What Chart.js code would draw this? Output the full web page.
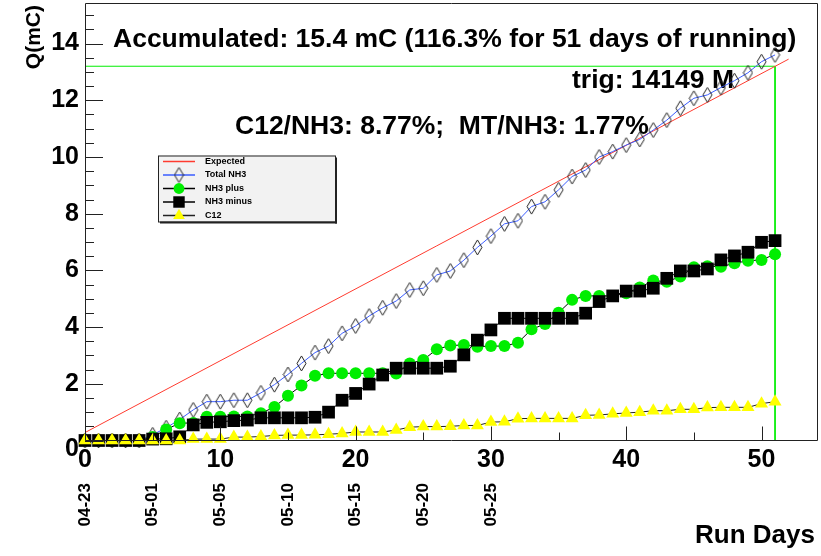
<!DOCTYPE html>
<html>
<head>
<meta charset="utf-8">
<script src="https://cdn.jsdelivr.net/npm/chart.js@4.4.1/dist/chart.umd.min.js"></script>
<style>
body { margin: 0; background: #fff; }
#wrap { width: 821px; height: 556px; }
</style>
</head>
<body>
<div id="wrap"><canvas id="myChart" width="821" height="556"></canvas></div>
<script>
// run day index for each measured point
const runDays = Array.from({length: 52}, (_, i) => i)

const totalNH3 = [0, 0, 0, 0, 0, 0.2, 0.45, 0.74, 1.08, 1.37,
  1.37, 1.42, 1.42, 1.68, 1.97, 2.33, 2.72, 3.1, 3.33, 3.78,
  4.04, 4.39, 4.68, 4.92, 5.31, 5.37, 5.84, 5.98, 6.36, 6.81,
  7.21, 7.64, 7.75, 8.25, 8.42, 8.84, 9.31, 9.54, 10.0, 10.19,
  10.42, 10.62, 10.95, 11.3, 11.72, 12.07, 12.19, 12.45, 12.69, 12.97,
  13.36, 13.6]
const nh3Plus = [0, 0, 0, 0, 0, 0.12, 0.39, 0.61, 0.62, 0.84,
  0.84, 0.85, 0.85, 0.96, 1.18, 1.58, 1.94, 2.28, 2.37, 2.37,
  2.37, 2.37, 2.37, 2.36, 2.72, 2.84, 3.22, 3.35, 3.37, 3.31,
  3.33, 3.33, 3.45, 3.92, 4.11, 4.51, 4.96, 5.1, 5.1, 5.1,
  5.19, 5.4, 5.64, 5.6, 5.78, 6.11, 6.15, 6.13, 6.25, 6.34,
  6.37, 6.57]
const nh3Minus = [0, 0, 0, 0, 0, 0.05, 0.06, 0.13, 0.55, 0.64,
  0.66, 0.7, 0.72, 0.8, 0.8, 0.8, 0.8, 0.82, 1.0, 1.42,
  1.66, 1.99, 2.31, 2.55, 2.55, 2.55, 2.55, 2.62, 3.02, 3.54,
  3.9, 4.31, 4.31, 4.31, 4.31, 4.31, 4.31, 4.49, 4.9, 5.1,
  5.27, 5.27, 5.37, 5.72, 5.98, 5.98, 6.05, 6.37, 6.51, 6.64,
  6.99, 7.05]
const c12 = [0, 0, 0, 0, 0, 0, 0, 0, 0.05, 0.05,
  0.05, 0.12, 0.12, 0.14, 0.18, 0.19, 0.19, 0.2, 0.22, 0.25,
  0.3, 0.3, 0.3, 0.37, 0.47, 0.49, 0.49, 0.5, 0.53, 0.53,
  0.65, 0.66, 0.77, 0.78, 0.78, 0.78, 0.78, 0.89, 0.9, 0.94,
  0.97, 1.0, 1.05, 1.05, 1.1, 1.1, 1.16, 1.17, 1.17, 1.17,
  1.3, 1.37]

const expectedDays = [0, 52]
const expectedQ = [0.28, 13.45]
const markDays = [0, 51, 51]
const markQ = [13.2, 13.2, 0]

const yTicks = [0, 2, 4, 6, 8, 10, 12, 14]
const xTicks = [0, 10, 20, 30, 40, 50]
const dateDays = [0, 5, 10, 15, 20, 25, 30]
const dateLabels = ['04-23', '05-01', '05-05', '05-10', '05-15', '05-20', '05-25']

const titleLines = [
  'Accumulated: 15.4 mC (116.3% for 51 days of running)',
  'trig: 14149 M',
  'C12/NH3: 8.77%;  MT/NH3: 1.77%'
]

const FONT = '"Liberation Sans", Arial, sans-serif'
const pts = (xs, ys) => xs.map((x, i) => ({x: x, y: ys[i]}))

// open diamond marker like ROOT's
const diamond = document.createElement('canvas')
diamond.width = 11
diamond.height = 17
const dc = diamond.getContext('2d')
dc.strokeStyle = '#222'
dc.lineWidth = 1
dc.beginPath()
dc.moveTo(5.5, 1)
dc.lineTo(10, 8.5)
dc.lineTo(5.5, 16)
dc.lineTo(1, 8.5)
dc.closePath()
dc.stroke()

const rootDecor = {
  id: 'rootDecor',
  beforeDatasetsDraw(chart) {
    const ctx = chart.ctx
    ctx.save()
    ctx.fillStyle = '#000'
    ctx.textAlign = 'left'
    ctx.textBaseline = 'alphabetic'
    ctx.font = 'bold 26.5px ' + FONT
    ctx.fillText(titleLines[0], 113, 47)
    ctx.fillText(titleLines[1], 572, 88)
    ctx.fillText(titleLines[2], 235, 134)
    ctx.restore()
  },
  afterDraw(chart) {
    const ctx = chart.ctx
    const a = chart.chartArea
    const xs = chart.scales.x, ys = chart.scales.y
    ctx.save()
    ctx.strokeStyle = '#222'
    ctx.lineWidth = 1
    // frame
    ctx.beginPath()
    ctx.rect(Math.round(a.left) + 0.5, Math.round(a.top) + 0.5, Math.round(a.right - a.left), Math.round(a.bottom - a.top))
    ctx.stroke()
    // y ticks, inside
    ctx.beginPath()
    for (let v = 0; v <= 15.4; v += 0.5) {
      const y = Math.round(ys.getPixelForValue(v)) + 0.5
      const len = (v % 2 === 0) ? 18 : 9
      ctx.moveTo(a.left, y)
      ctx.lineTo(a.left + len, y)
    }
    // x ticks, inside
    for (let d = 0; d <= 54; d += 5) {
      const x = Math.round(xs.getPixelForValue(d)) + 0.5
      const len = (d % 10 === 0) ? 14 : 8
      ctx.moveTo(x, a.bottom)
      ctx.lineTo(x, a.bottom - len)
    }
    ctx.stroke()

    ctx.fillStyle = '#000'
    ctx.font = 'bold 25px ' + FONT
    ctx.textAlign = 'right'
    ctx.textBaseline = 'middle'
    yTicks.forEach(v => {
      const y = ys.getPixelForValue(v) + (v === 0 ? 9 : 0)
      ctx.fillText(String(v), 79, y)
    })
    ctx.textAlign = 'center'
    xTicks.forEach(d => {
      ctx.fillText(String(d), xs.getPixelForValue(d), 460)
    })

    // date labels, vertical
    ctx.font = 'bold 17px ' + FONT
    ctx.textAlign = 'right'
    dateDays.forEach((d, i) => {
      ctx.save()
      ctx.translate(xs.getPixelForValue(d), 483)
      ctx.rotate(-Math.PI / 2)
      ctx.fillText(dateLabels[i], 0, 0)
      ctx.restore()
    })

    // axis titles
    ctx.font = 'bold 26px ' + FONT
    ctx.textAlign = 'right'
    ctx.textBaseline = 'alphabetic'
    ctx.fillText('Run Days', 815, 543)
    ctx.save()
    ctx.translate(40, 5)
    ctx.rotate(-Math.PI / 2)
    ctx.font = 'bold 21px ' + FONT
    ctx.fillText('Q(mC)', 0, 0)
    ctx.restore()

    // legend box
    const lx = 158, ly = 155.5, lw = 177, lh = 66
    ctx.fillStyle = '#f2f2f2'
    ctx.fillRect(lx, ly, lw, lh)
    ctx.fillStyle = '#222'
    ctx.fillRect(lx + 2, ly + lh, lw, 2)
    ctx.fillRect(lx + lw, ly + 2, 2, lh)
    ctx.strokeStyle = '#222'
    ctx.strokeRect(lx + 0.5, ly + 0.5, lw, lh)
    const rows = [161.5, 175, 188.5, 202, 215.5]
    chart.data.datasets.filter(ds => ds.label).forEach((ds, i) => {
      const y = rows[i]
      ctx.strokeStyle = ds.borderColor
      ctx.lineWidth = 1.5
      ctx.beginPath()
      ctx.moveTo(163, y)
      ctx.lineTo(195, y)
      ctx.stroke()
      if (ds.pointRadius > 0) {
        ctx.fillStyle = ds.pointBackgroundColor
        ctx.strokeStyle = ds.pointBorderColor || '#000'
        Chart.helpers.drawPoint(ctx, {
          pointStyle: ds.pointStyle, radius: ds.pointRadius * 0.9,
          rotation: 0, borderWidth: ds.pointBorderWidth || 0
        }, 179, y)
      }
      ctx.fillStyle = '#000'
      ctx.font = 'bold 9px ' + FONT
      ctx.textAlign = 'left'
      ctx.textBaseline = 'middle'
      ctx.fillText(ds.label, 205, y)
    })
    ctx.restore()
  }
}

const myData = {
  datasets: [
    {
      label: 'Expected', data: pts(expectedDays, expectedQ),
      borderColor: '#ff3b2f', borderWidth: 1, pointRadius: 0, order: 4
    },
    {
      label: 'Total NH3', data: pts(runDays, totalNH3),
      borderColor: '#3a5cff', borderWidth: 1,
      pointStyle: diamond, pointRadius: 8, order: 3
    },
    {
      label: 'NH3 plus', data: pts(runDays, nh3Plus),
      borderColor: '#000', borderWidth: 1,
      pointStyle: 'circle', pointRadius: 6, pointBackgroundColor: '#00ee00',
      pointBorderWidth: 0, order: 2
    },
    {
      label: 'NH3 minus', data: pts(runDays, nh3Minus),
      borderColor: '#000', borderWidth: 1,
      pointStyle: 'rect', pointRadius: 9, pointBackgroundColor: '#000',
      pointBorderWidth: 0, order: 1
    },
    {
      label: 'C12', data: pts(runDays, c12),
      borderColor: '#222', borderWidth: 1,
      pointStyle: 'triangle', pointRadius: 7.5, pointBackgroundColor: '#ffff00',
      pointBorderWidth: 0, order: 0
    },
    {
      label: '', data: pts(markDays, markQ),
      borderColor: '#00ee00', borderWidth: 1, pointRadius: 0, order: 5
    }
  ]
}

const myConfig = {
  type: 'scatter',
  data: myData,
  options: {
    responsive: false,
    animation: false,
    events: [],
    showLine: true,
    clip: false,
    layout: {autoPadding: false, padding: {left: 85, top: 3.3, right: 4, bottom: 115.5}},
    scales: {
      x: {type: 'linear', display: false, min: 0, max: 54.1},
      y: {type: 'linear', display: false, min: 0, max: 15.42}
    },
    elements: {line: {tension: 0}},
    plugins: {legend: {display: false}, tooltip: {enabled: false}}
  },
  plugins: [rootDecor]
}

new Chart(document.getElementById('myChart'), myConfig)
</script>
</body>
</html>
